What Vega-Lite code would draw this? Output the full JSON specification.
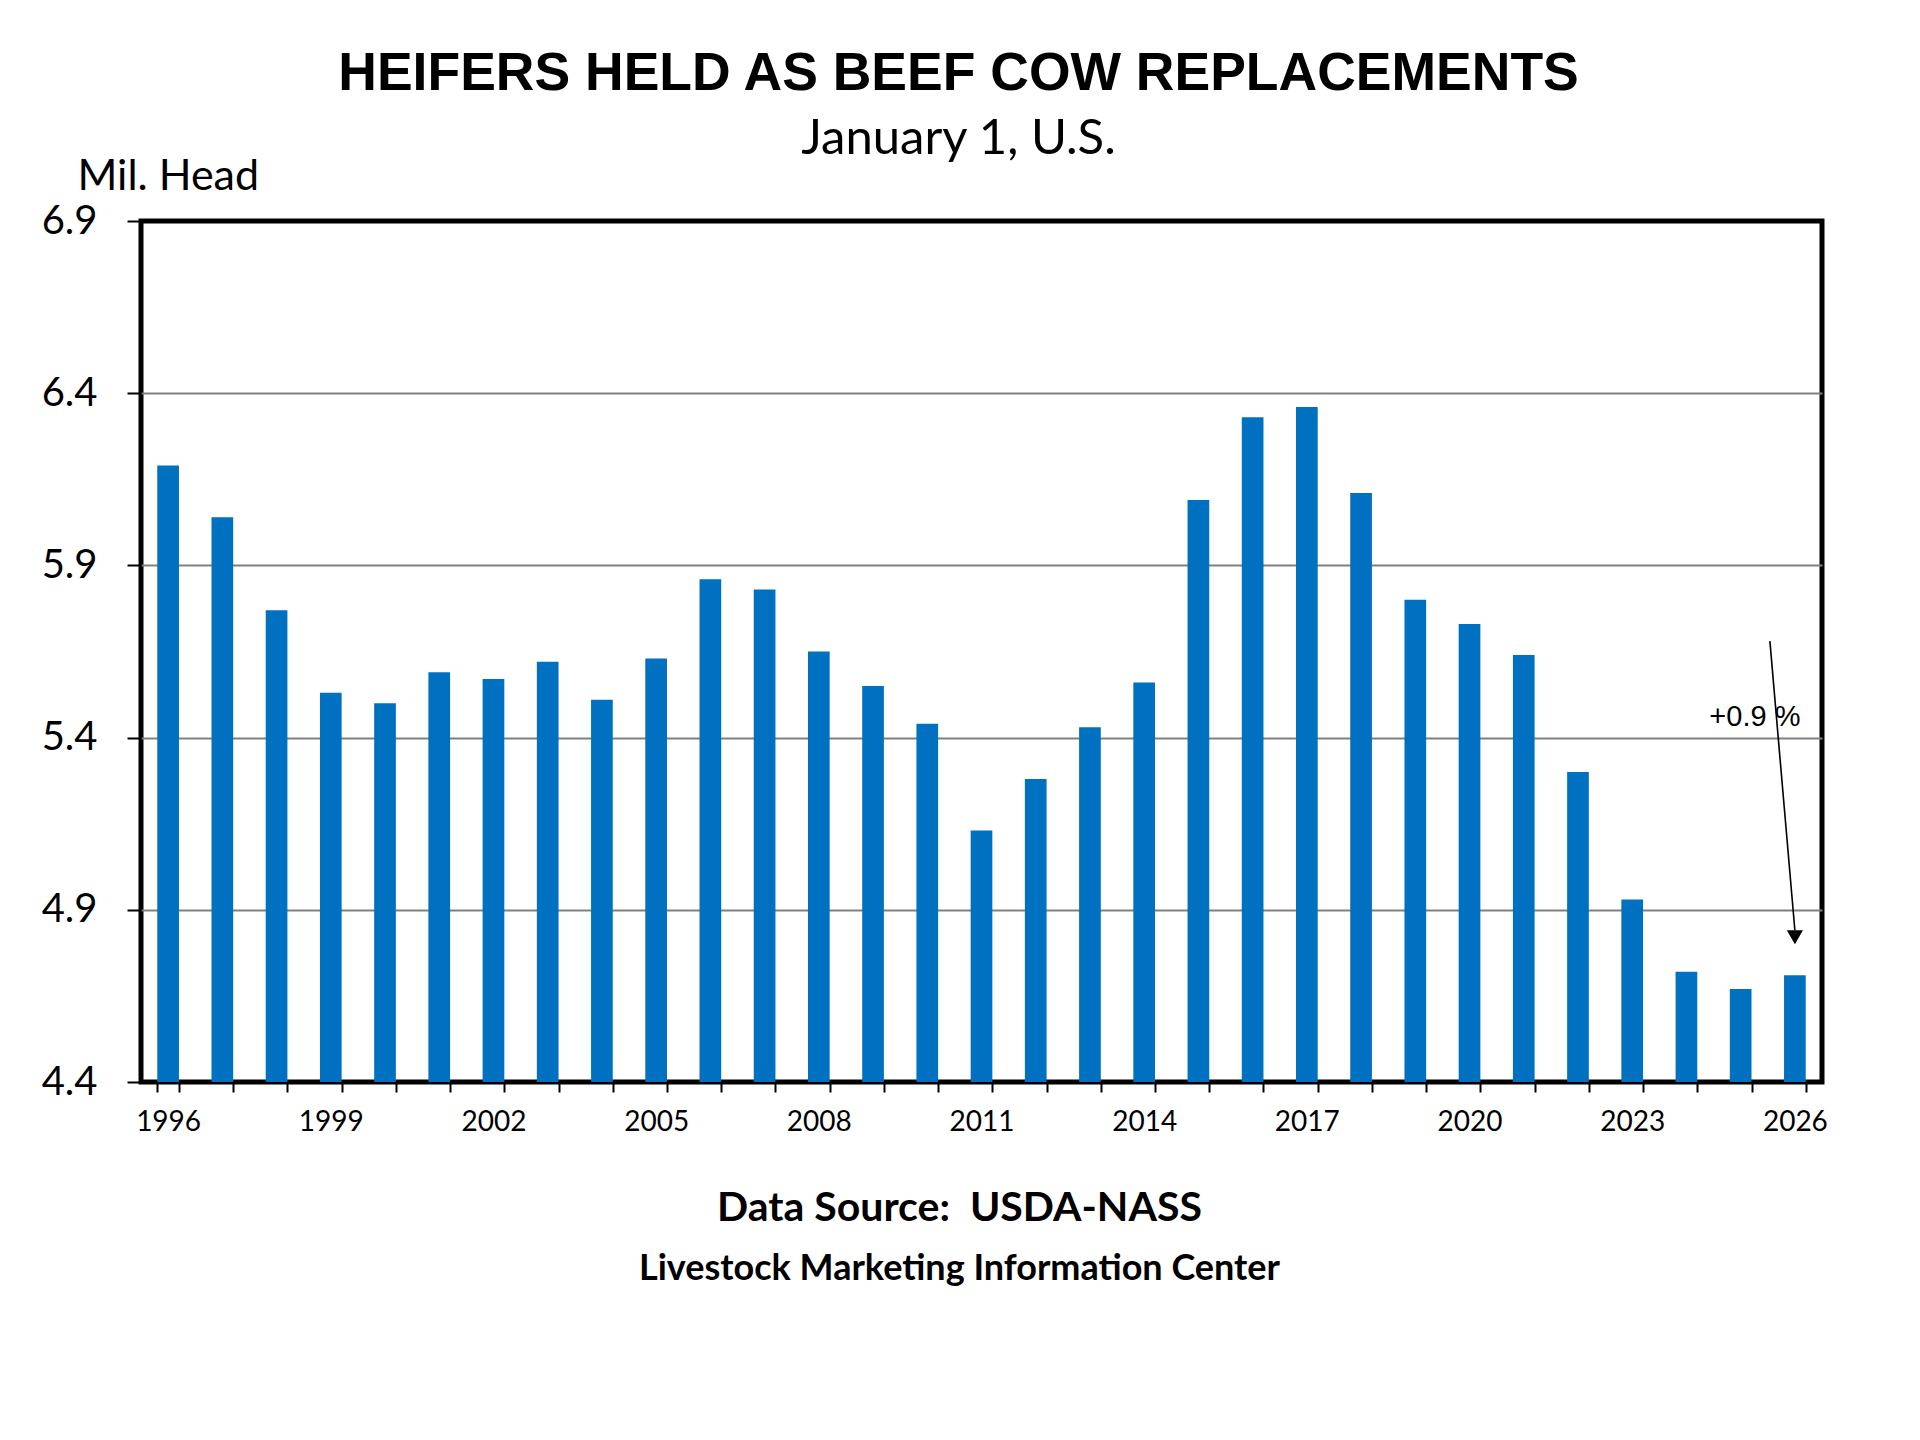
{
  "$schema": "https://vega.github.io/schema/vega-lite/v6.json",
  "width": 1681,
  "height": 861,
  "padding": {"left": 41, "top": 46, "right": 95, "bottom": 120},
  "background": "white",
  "config": {
    "font": "Lato",
    "view": {"stroke": "black", "strokeWidth": 5}
  },
  "title": {
    "text": "HEIFERS HELD AS BEEF COW REPLACEMENTS",
    "subtitle": "January 1, U.S.",
    "font": "Liberation Sans",
    "fontSize": 53.5,
    "fontWeight": "bold",
    "color": "black",
    "subtitleFont": "Lato",
    "subtitleFontSize": 49,
    "subtitleColor": "black",
    "subtitlePadding": 14,
    "anchor": "middle",
    "dx": -23,
    "offset": -10
  },
  "datasets": {
    "heifers": [
      {"Year": 1996, "Value": 6.19},
      {"Year": 1997, "Value": 6.04},
      {"Year": 1998, "Value": 5.77},
      {"Year": 1999, "Value": 5.53},
      {"Year": 2000, "Value": 5.50},
      {"Year": 2001, "Value": 5.59},
      {"Year": 2002, "Value": 5.57},
      {"Year": 2003, "Value": 5.62},
      {"Year": 2004, "Value": 5.51},
      {"Year": 2005, "Value": 5.63},
      {"Year": 2006, "Value": 5.86},
      {"Year": 2007, "Value": 5.83},
      {"Year": 2008, "Value": 5.65},
      {"Year": 2009, "Value": 5.55},
      {"Year": 2010, "Value": 5.44},
      {"Year": 2011, "Value": 5.13},
      {"Year": 2012, "Value": 5.28},
      {"Year": 2013, "Value": 5.43},
      {"Year": 2014, "Value": 5.56},
      {"Year": 2015, "Value": 6.09},
      {"Year": 2016, "Value": 6.33},
      {"Year": 2017, "Value": 6.36},
      {"Year": 2018, "Value": 6.11},
      {"Year": 2019, "Value": 5.80},
      {"Year": 2020, "Value": 5.73},
      {"Year": 2021, "Value": 5.64},
      {"Year": 2022, "Value": 5.30},
      {"Year": 2023, "Value": 4.93},
      {"Year": 2024, "Value": 4.72},
      {"Year": 2025, "Value": 4.67},
      {"Year": 2026, "Value": 4.71}
    ],
    "note": [
      {"Year": 2026, "Start": 5.68, "End": 4.84, "Tip": 4.82, "LabelY": 5.46, "Label": "+0.9 %"}
    ]
  },
  "resolve": {"axis": {"x": "independent"}},
  "layer": [
    {
      "data": {"name": "heifers"},
      "mark": {"type": "bar", "color": "#0070C0"},
      "encoding": {
        "x": {
          "field": "Year",
          "type": "ordinal",
          "scale": {"paddingInner": 0.6, "paddingOuter": 0.3},
          "axis": {
            "orient": "bottom",
            "title": "Data Source:\u00a0 USDA-NASS",
            "titleFont": "Lato",
            "titleFontWeight": "bold",
            "titleFontSize": 41,
            "titleColor": "black",
            "titlePadding": 52,
            "titleX": 818,
            "labelAngle": 0,
            "labelFont": "Lato",
            "labelFontSize": 28,
            "labelColor": "black",
            "labelPadding": 16,
            "labelOverlap": false,
            "labelExpr": "(datum.value - 1996) % 3 == 0 ? datum.label : ''",
            "tickBand": "extent",
            "tickSize": 10,
            "tickColor": "black",
            "tickWidth": 2,
            "domain": false,
            "grid": false
          }
        },
        "y": {
          "field": "Value",
          "type": "quantitative",
          "title": "Mil. Head",
          "scale": {"domain": [4.4, 6.9], "nice": false, "zero": false, "clamp": true},
          "axis": {
            "titleAngle": 0,
            "titleFont": "Lato",
            "titleFontWeight": "normal",
            "titleFontSize": 43,
            "titleColor": "black",
            "titleAlign": "left",
            "titleBaseline": "alphabetic",
            "titleX": -64,
            "titleY": -32,
            "values": [4.4, 4.9, 5.4, 5.9, 6.4, 6.9],
            "format": ".1f",
            "labelFont": "Lato",
            "labelFontSize": 40,
            "labelColor": "black",
            "labelPadding": 30,
            "tickSize": 14,
            "tickColor": "black",
            "tickWidth": 2,
            "domain": false,
            "grid": true,
            "gridColor": {"condition": {"test": "datum.value < 4.5 || datum.value > 6.8", "value": "black"}, "value": "#808080"},
            "gridWidth": 2
          }
        },
        "y2": {"datum": 4.4}
      }
    },
    {
      "data": {"name": "note"},
      "mark": {"type": "rule", "color": "black", "strokeWidth": 1.6, "xOffset": -25, "x2Offset": 0},
      "encoding": {
        "x": {
          "field": "Year",
          "type": "ordinal",
          "scale": {"paddingInner": 0.6, "paddingOuter": 0.3},
          "axis": {
            "orient": "bottom",
            "title": "Livestock Marketing Information Center",
            "titleFont": "Lato",
            "titleFontWeight": "bold",
            "titleFontSize": 36,
            "titleColor": "black",
            "titlePadding": 169,
            "titleX": 818,
            "labels": false,
            "ticks": false,
            "domain": false,
            "grid": false
          }
        },
        "x2": {"field": "Year"},
        "y": {"field": "Start", "type": "quantitative", "title": "Mil. Head", "scale": {"domain": [4.4, 6.9], "nice": false, "zero": false, "clamp": true}},
        "y2": {"field": "End"}
      }
    },
    {
      "data": {"name": "note"},
      "mark": {"type": "point", "shape": "triangle-down", "filled": true, "color": "black", "opacity": 1, "size": 260},
      "encoding": {
        "x": {"field": "Year", "type": "ordinal", "scale": {"paddingInner": 0.6, "paddingOuter": 0.3}, "axis": null},
        "y": {"field": "Tip", "type": "quantitative", "title": "Mil. Head", "scale": {"domain": [4.4, 6.9], "nice": false, "zero": false, "clamp": true}}
      }
    },
    {
      "data": {"name": "note"},
      "mark": {"type": "text", "font": "Liberation Sans", "fontSize": 29, "color": "black", "align": "center", "baseline": "middle", "dx": -40},
      "encoding": {
        "x": {"field": "Year", "type": "ordinal", "scale": {"paddingInner": 0.6, "paddingOuter": 0.3}, "axis": null},
        "y": {"field": "LabelY", "type": "quantitative", "title": "Mil. Head", "scale": {"domain": [4.4, 6.9], "nice": false, "zero": false, "clamp": true}},
        "text": {"field": "Label"}
      }
    }
  ]
}
